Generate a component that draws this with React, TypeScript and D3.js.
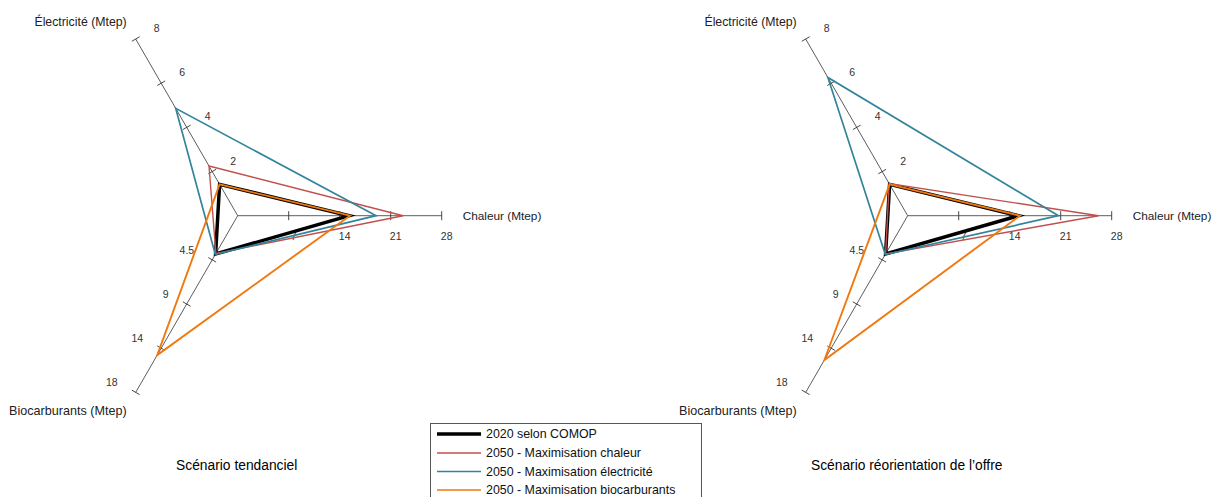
import React from "react";
import * as d3 from "d3";

const axisNames = ["Chaleur (Mtep)", "Électricité (Mtep)", "Biocarburants (Mtep)"];
const axisMax = [28, 8, 18];
const chaleurTicks = ["7", "14", "21", "28"];
const elecTicks = ["2", "4", "6", "8"];
const bioTicks = ["4.5", "9", "14", "18"];

const seriesNames = [
  "2020 selon COMOP",
  "2050 - Maximisation chaleur",
  "2050 - Maximisation électricité",
  "2050 - Maximisation biocarburants",
];
const seriesColors = ["#000000", "#C0504D", "#31849B", "#F0780F"];
const seriesWidths = [3.5, 1.4, 1.7, 1.9];

// values: [chaleur, électricité, biocarburants]
const tendComop = [15.3, 1.42, 3.9];
const tendChaleur = [22.7, 2.25, 3.85];
const tendElec = [19.0, 4.86, 3.95];
const tendBio = [15.4, 1.42, 14.2];

const reorComop = [15.2, 1.42, 3.9];
const reorChaleur = [26.2, 1.45, 3.9];
const reorElec = [20.7, 6.26, 3.95];
const reorBio = [15.4, 1.42, 14.7];

const charts = [
  { title: "Scénario tendanciel", cx: 237.7, series: [tendComop, tendChaleur, tendElec, tendBio] },
  { title: "Scénario réorientation de l’offre", cx: 907.7, series: [reorComop, reorChaleur, reorElec, reorBio] },
];

const CY = 215.7;
const R = 204;
const angles = [0, (120 * Math.PI) / 180, (240 * Math.PI) / 180];
const tickSets = [chaleurTicks, elecTicks, bioTicks];
const FONT = "Arial, 'Liberation Sans', sans-serif";

function Radar({ title, cx, series }: { title: string; cx: number; series: number[][] }) {
  const scales = axisMax.map((m) => d3.scaleLinear().domain([0, m]).range([0, R]));
  const pt = (axis: number, r: number): [number, number] => [
    cx + r * Math.cos(angles[axis]),
    CY - r * Math.sin(angles[axis]),
  ];
  const line = d3.line<[number, number]>().curve(d3.curveLinearClosed);

  return (
    <g>
      {angles.map((a, i) => {
        const [ex, ey] = pt(i, R);
        const px = Math.sin(a) * 4.5;
        const py = Math.cos(a) * 4.5;
        const ticks = tickSets[i].map((lab, k) => {
          const v = (axisMax[i] * (k + 1)) / tickSets[i].length;
          const [tx, ty] = pt(i, scales[i](v));
          return { lab, tx, ty };
        });
        return (
          <g key={i}>
            <line x1={cx} y1={CY} x2={ex} y2={ey} stroke="#333" strokeWidth={0.8} />
            {ticks.map((t, k) => (
              <g key={k}>
                <line x1={t.tx - px} y1={t.ty - py} x2={t.tx + px} y2={t.ty + py} stroke="#333" strokeWidth={0.9} />
                {i === 0 && (
                  <text x={t.tx + 5} y={t.ty + 20} textAnchor="middle" dominantBaseline="central" fontSize={10.5} fill="#333">
                    {t.lab}
                  </text>
                )}
                {i === 1 && (
                  <text x={t.tx + 18} y={t.ty - 11} textAnchor="start" dominantBaseline="central" fontSize={10.5} fill="#333">
                    {t.lab}
                  </text>
                )}
                {i === 2 && (
                  <text x={t.tx - 18} y={t.ty - 10} textAnchor="end" dominantBaseline="central" fontSize={10.5} fill="#333">
                    {t.lab}
                  </text>
                )}
              </g>
            ))}
          </g>
        );
      })}
      <text x={pt(0, R)[0] + 21} y={CY} dominantBaseline="central" fontSize={11.8} fill="#222">
        {axisNames[0]}
      </text>
      <text x={pt(1, R)[0] - 9} y={pt(1, R)[1] - 17} textAnchor="end" dominantBaseline="central" fontSize={12.3} fill="#222">
        {axisNames[1]}
      </text>
      <text x={pt(2, R)[0] - 9} y={pt(2, R)[1] + 19} textAnchor="end" dominantBaseline="central" fontSize={12.6} fill="#222">
        {axisNames[2]}
      </text>
      {series.map((vals, s) => (
        <path
          key={s}
          d={line(vals.map((v, i) => pt(i, scales[i](v)))) || ""}
          fill="none"
          stroke={seriesColors[s]}
          strokeWidth={seriesWidths[s]}
          strokeLinejoin="miter"
        />
      ))}
      <text x={cx - 1} y={465} textAnchor="middle" dominantBaseline="central" fontSize={13.8} fill="#000">
        {title}
      </text>
    </g>
  );
}

export default function App() {
  const legendRows = [434, 453, 471.5, 490];
  return (
    <div style={{ position: "fixed", left: 0, top: 0 }}>
      <svg width={1213} height={497} style={{ display: "block", background: "#fff", fontFamily: FONT }}>
        {charts.map((c, i) => (
          <Radar key={i} title={c.title} cx={c.cx} series={c.series} />
        ))}
        <rect x={430.5} y={423.5} width={271} height={90} fill="#fff" stroke="#555" strokeWidth={1} />
        {seriesNames.map((n, i) => (
          <g key={i}>
            <line
              x1={437}
              x2={481}
              y1={legendRows[i]}
              y2={legendRows[i]}
              stroke={seriesColors[i]}
              strokeWidth={i === 0 ? 3.5 : 1.7}
            />
            <text x={486} y={legendRows[i]} dominantBaseline="central" fontSize={12.4} fill="#111">
              {n}
            </text>
          </g>
        ))}
      </svg>
    </div>
  );
}
